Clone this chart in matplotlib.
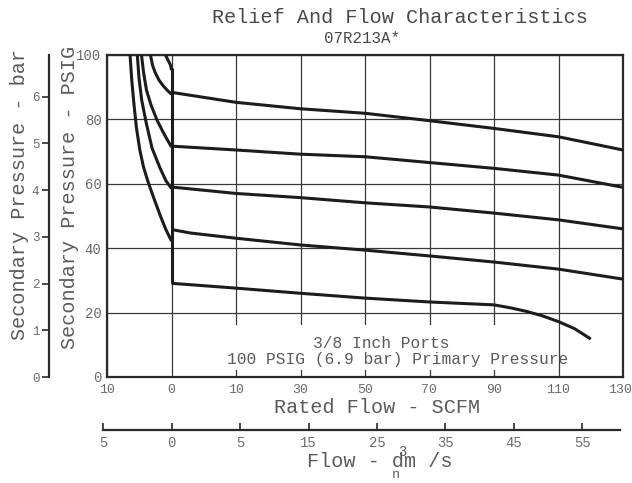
import numpy as np
import matplotlib.pyplot as plt
from matplotlib.patches import Rectangle
from matplotlib.transforms import ScaledTranslation

plt.rcParams['font.family'] = ['Liberation Mono', 'DejaVu Sans Mono']

# forward flow curves (SCFM -> secondary pressure, PSIG)
flow_scfm = [0, 10, 30, 50, 70, 90, 110, 130]
flow_curve1 = [88.4, 85.3, 83.3, 81.9, 79.6, 77.2, 74.6, 70.5]
flow_curve2 = [71.7, 70.5, 69.2, 68.4, 66.6, 64.8, 62.7, 58.9]
flow_curve3 = [59.0, 57.0, 55.7, 54.1, 52.8, 50.9, 48.8, 46.0]
flow_curve4_scfm = [0, 3, 10, 30, 50, 70, 90, 110, 130]
flow_curve4 = [45.8, 44.7, 43.1, 41.0, 39.4, 37.6, 35.7, 33.5, 30.4]
flow_curve5_scfm = [0, 10, 30, 50, 70, 90, 95, 100, 105, 110, 115, 120]
flow_curve5 = [29.1, 27.6, 26.0, 24.5, 23.3, 22.4, 21.5, 20.4, 19.0, 17.2, 15.0, 11.8]

# relief (reverse flow) curves
relief_a_scfm = [-0.93, -0.54, -0.16, 0]
relief_a = [100, 98.4, 96.9, 95.3]
relief_b_scfm = [-3.26, -2.95, -2.56, -1.94, -1.27, -0.54, 0]
relief_b = [100, 96.9, 94.7, 92.2, 90.4, 88.8, 87.8]
relief_c_scfm = [-4.65, -4.34, -3.88, -3.18, -2.25, -1.32, -0.54, 0]
relief_c = [100, 94.7, 89.1, 84.5, 79.8, 76.1, 73.3, 71.4]
relief_d_scfm = [-5.30, -5.04, -4.62, -3.95, -3.02, -1.78, -0.85, 0]
relief_d = [100, 92.9, 86.0, 79.2, 71.1, 64.9, 60.9, 58.5]
relief_e_scfm = [-6.43, -6.16, -5.81, -5.43, -4.91, -4.34, -3.57, -2.64, -1.66, -0.85, 0]
relief_e = [100, 92.2, 84.5, 77.3, 70.5, 65.2, 60.2, 55.0, 49.7, 45.7, 42.2]

# lockup line at zero flow
lockup_scfm = [0, 0]
lockup_psig = [96, 29.1]

scfm_ticks = [-10, 0, 10, 30, 50, 70, 90, 110, 130]
scfm_labels = ['10', '0', '10', '30', '50', '70', '90', '110', '130']
psig_ticks = [0, 20, 40, 60, 80, 100]
bar_ticks = [0, 1, 2, 3, 4, 5, 6]
dm_ticks = [-5, 0, 5, 15, 25, 35, 45, 55]
dm_labels = ['5', '0', '5', '15', '25', '35', '45', '55']

W, H = 632, 483
fig = plt.figure(figsize=(W / 100, H / 100), dpi=100)


def box(x0, y0, x1, y1):
    return [x0 / W, 1 - y1 / H, (x1 - x0) / W, (y1 - y0) / H]


def fx(x):
    return x / W


def fy(y):
    return 1 - y / H


line_c = '#1c1c1c'
grid_c = '#383838'
text_c = '#5a5a5a'
tick_c = '#6a6a6a'
spine_c = '#2a2a2a'

ax = fig.add_axes(box(107, 55, 623, 377))


def scfm_to_pos(x):
    return np.interp(x, [-10, 0, 10, 130], [0, 1, 2, 8])


def pos_to_scfm(p):
    return np.interp(p, [0, 1, 2, 8], [-10, 0, 10, 130])


ax.set_xscale('function', functions=(scfm_to_pos, pos_to_scfm))
ax.set_xlim(-10, 130)
ax.set_ylim(0, 100)
ax.set_xticks(scfm_ticks, scfm_labels)
ax.set_yticks(psig_ticks)
ax.grid(True, color=grid_c, lw=0.9)
ax.tick_params(axis='x', length=0, pad=5, labelsize=9.5, labelcolor=tick_c)
ax.tick_params(axis='y', length=0, pad=4, labelsize=10, labelcolor=tick_c)
for s in ax.spines.values():
    s.set_linewidth(1.6)
    s.set_color(spine_c)
# keep the last tick label inside the picture
last = ax.get_xticklabels()[-1]
last.set_transform(last.get_transform() + ScaledTranslation(-3 / 100, 0, fig.dpi_scale_trans))

# white patch behind the note (hides the grid there)
ax.add_patch(Rectangle((3, 2.2), 97, 13.9, facecolor='white', edgecolor='none', zorder=1.8))

kw = dict(color=line_c, lw=2.2, solid_joinstyle='round', solid_capstyle='butt', zorder=3)
for y in [flow_curve1, flow_curve2, flow_curve3]:
    ax.plot(flow_scfm, y, **kw)
ax.plot(flow_curve4_scfm, flow_curve4, **kw)
ax.plot(flow_curve5_scfm, flow_curve5, **kw)
ax.plot(relief_a_scfm, relief_a, **kw)
ax.plot(relief_b_scfm, relief_b, **kw)
ax.plot(relief_c_scfm, relief_c, **kw)
ax.plot(relief_d_scfm, relief_d, **kw)
ax.plot(relief_e_scfm, relief_e, **kw)
ax.plot(lockup_scfm, lockup_psig, **kw)

# bar scale on the left
sec = ax.secondary_yaxis((49 - 107) / 516, functions=(lambda p: p * 0.0689476, lambda b: b / 0.0689476))
sec.set_yticks(bar_ticks)
sec.tick_params(direction='out', length=5, width=1.2, pad=2, labelsize=9, labelcolor=tick_c, color=spine_c)
sec.spines['left'].set_linewidth(1.6)
sec.spines['left'].set_color(spine_c)

# dm3/s scale at the bottom
axf = fig.add_axes(box(103.3, 418, 620, 430))


def dm_to_pos(x):
    return np.interp(x, [-5, 5, 65], [0, 2, 8])


def pos_to_dm(p):
    return np.interp(p, [0, 2, 8], [-5, 5, 65])


axf.set_xscale('function', functions=(dm_to_pos, pos_to_dm))
axf.set_xlim(-5, 60.5)
axf.set_xticks(dm_ticks, dm_labels)
axf.set_yticks([])
axf.patch.set_visible(False)
for side in ['top', 'left', 'right']:
    axf.spines[side].set_visible(False)
axf.spines['bottom'].set_linewidth(1.6)
axf.spines['bottom'].set_color(spine_c)
axf.tick_params(axis='x', direction='in', length=5, width=1.2, pad=4, labelsize=10,
                labelcolor=tick_c, color=spine_c)

# texts
fig.text(fx(400), fy(23), 'Relief And Flow Characteristics', ha='center', va='baseline',
         fontsize=14.5, color='#484848')
fig.text(fx(362), fy(43), '07R213A*', ha='center', va='baseline', fontsize=11.3, color='#484848')
fig.text(fx(377), fy(413), 'Rated Flow - SCFM', ha='center', va='baseline', fontsize=14.5, color=text_c)
fig.text(fx(75), fy(197), 'Secondary Pressure - PSIG', ha='center', va='baseline', rotation=90,
         rotation_mode='anchor', fontsize=14.5, color=text_c)
fig.text(fx(25), fy(195), 'Secondary Pressure - bar', ha='center', va='baseline', rotation=90,
         rotation_mode='anchor', fontsize=14.5, color=text_c)
fig.text(fx(380), fy(467), 'Flow - dm /s', ha='center', va='baseline', fontsize=14.5, color=text_c)
fig.text(fx(402.5), fy(456.5), '3', ha='center', va='baseline', fontsize=10, color=text_c)
fig.text(fx(396), fy(478), 'n', ha='center', va='baseline', fontsize=9.5, color=text_c)
fig.text(fx(381), fy(348), '3/8 Inch Ports', ha='center', va='baseline', fontsize=11.7, color=text_c)
fig.text(fx(398), fy(364), '100 PSIG (6.9 bar) Primary Pressure', ha='center', va='baseline',
         fontsize=11.7, color=text_c)

fig.savefig('out.png', dpi=100)
